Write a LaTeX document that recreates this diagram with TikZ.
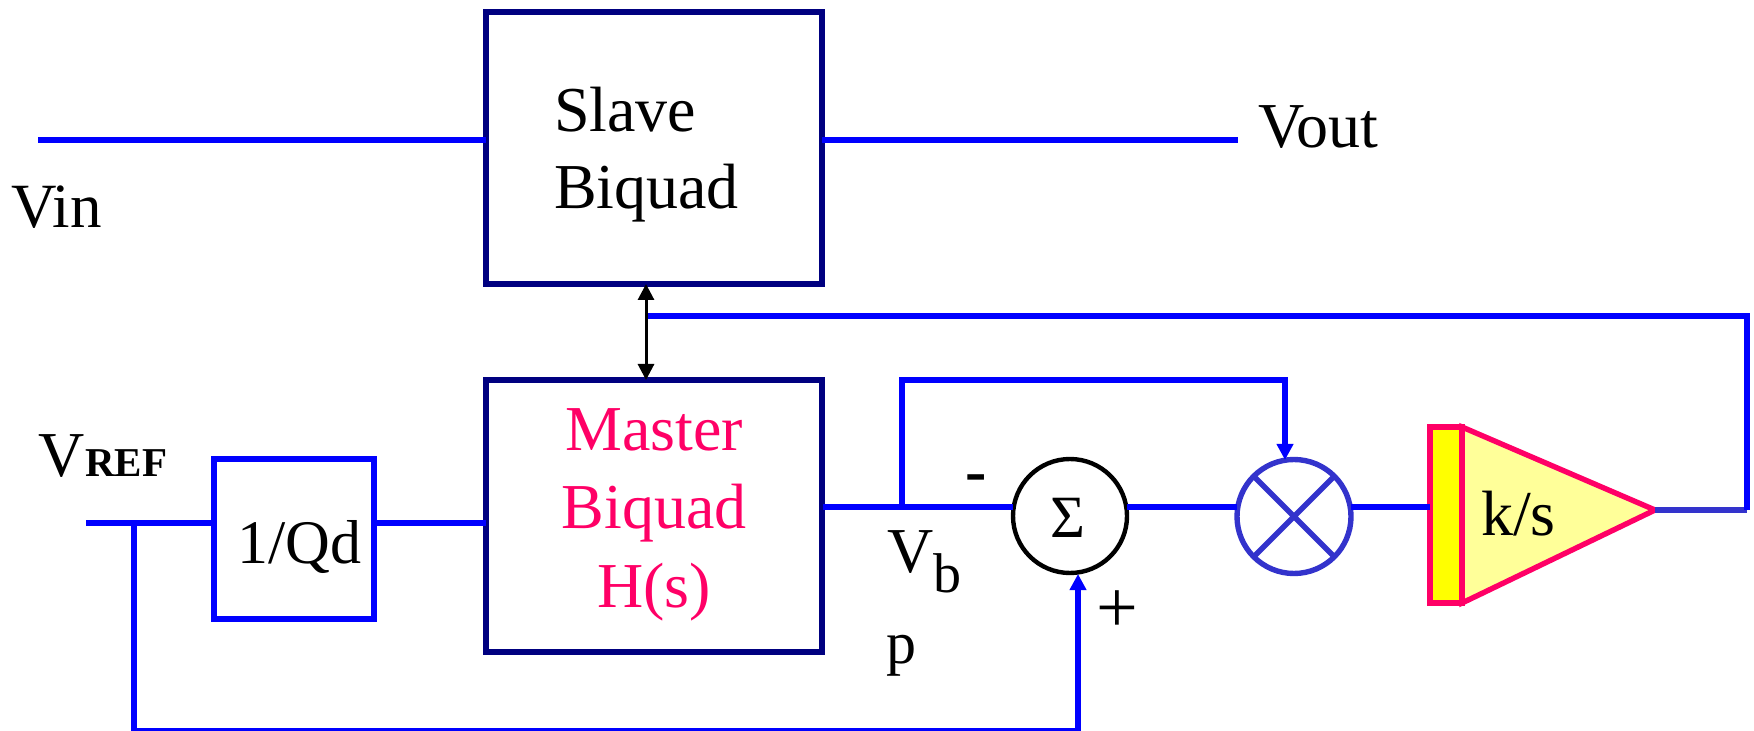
\documentclass[tikz,border=0pt]{standalone}
\usepackage{fontspec}
\setmainfont{Liberation Serif}
\usetikzlibrary{arrows.meta}
\definecolor{navybox}{HTML}{000080}
\definecolor{wire}{HTML}{0000FF}
\definecolor{mixblue}{HTML}{3333CC}
\definecolor{hot}{HTML}{FF0066}
\definecolor{paleyellow}{HTML}{FFFF99}
\definecolor{brightyellow}{HTML}{FFFF00}
\tikzset{
  biquad/.style={draw=navybox,line width=2.8pt,rectangle,inner sep=0,outer sep=0,minimum width=168pt,anchor=center},
  gainbox/.style={draw=wire,line width=2.7pt,rectangle,inner sep=0,outer sep=0,minimum width=80pt,minimum height=80pt},
  wireline/.style={draw=wire,line width=2.7pt,line join=miter},
  wirearrow/.style={wireline,-{Triangle[width=8pt,length=8pt]}},
  biarrow/.style={draw=black,line width=1.5pt,{Triangle[width=8pt,length=8pt]}-{Triangle[width=8pt,length=8pt]}},
  circ/.style={circle,inner sep=0,outer sep=0,minimum size=57pt},
  lab/.style={anchor=base west,inner sep=0,outer sep=0,font=\fontsize{32}{38.5}\selectfont},
  sublab/.style={anchor=base west,inner sep=0,outer sep=0,font=\fontsize{28}{32}\selectfont},
}
\begin{document}
\begin{tikzpicture}[x=0.5pt,y=-0.5pt]
\useasboundingbox (0,0) rectangle (1754,731);
\begin{scope}
\clip (0,0) rectangle (1754,731);
% blocks
\node[biquad,minimum height=136pt] (slave) at (654,148) {};
\node[biquad,minimum height=136pt] (master) at (654,516) {};
\node[gainbox] (qd) at (294,539) {};
\node[circ,draw=black,line width=2.2pt] (sum) at (1070,516) {};
\node[circ,draw=mixblue,line width=2.7pt] (mult) at (1294,516.5) {};
\draw[draw=mixblue,line width=2.7pt] (mult.45) -- (mult.225) (mult.135) -- (mult.315);
\draw[draw=hot,line width=2.7pt,fill=paleyellow] (1462,427) -- (1655,510) -- (1462,603) -- cycle;
\node[draw=hot,fill=brightyellow,line width=2.7pt,rectangle,inner sep=0,outer sep=0,minimum width=16pt,minimum height=88pt] (intbar) at (1446,515) {};
\coordinate (tip) at (1655,510);
% free ends and bends
\coordinate (vinL) at (38,140);
\coordinate (voutR) at (1238,140);
\coordinate (vrefL) at (86,523);
\coordinate (tapA) at (134,523);
\coordinate (botL) at (134,731);
\coordinate (botR) at (1078,731);
\coordinate (sumIn) at (1078,574);
\coordinate (vbL) at (823,507);
\coordinate (tapB) at (902,507);
\coordinate (fbA) at (902,380);
\coordinate (fbB) at (1285,380);
\coordinate (multIn) at (1285,460);
\coordinate (outC) at (1747,510);
\coordinate (outD) at (1747,316);
\coordinate (linkEnd) at (646,316);
\coordinate (linkTop) at (646,284);
\coordinate (linkBot) at (646,380);
% connectors
\draw[wireline] (vinL) -- (vinL -| slave.west);
\draw[wireline] (voutR -| slave.east) -- (voutR);
\draw[wireline] (vrefL) -- (vrefL -| qd.west);
\draw[wireline] (vrefL -| qd.east) -- (vrefL -| master.west);
\draw[wirearrow] (tapA) -- (botL) -- (botR) -- (sumIn);
\draw[wireline] (vbL) -- (vbL -| sum.west);
\draw[wirearrow] (tapB) -- (fbA) -- (fbB) -- (multIn);
\draw[wireline] (vbL -| sum.east) -- (vbL -| mult.west);
\draw[wireline] (vbL -| mult.east) -- (vbL -| intbar.west);
\draw[draw=mixblue,line width=2.7pt] (tip) -- (outC);
\draw[wireline] (outC) -- (outD) -- (linkEnd);
\draw[biarrow] (linkTop) -- (linkBot);
\end{scope}
% labels
\node[lab] (slavetxt) at (554,132) {Slave};
\node[lab] (slavetxtb) at (554,209) {Biquad};
\node[lab,anchor=base,text=hot] (m1) at (654,451) {Master};
\node[lab,anchor=base,text=hot] (m2) at (654,528) {Biquad};
\node[lab,anchor=base,text=hot] (m3) at (654,607) {H(s)};
\node[lab,font=\fontsize{31.5}{36}\selectfont] (vin) at (11,228) {Vin};
\node[lab] (vout) at (1258,148) {Vout};
\node[lab] (vref) at (39,476) {V{\fontsize{20.5}{24}\selectfont\bfseries REF}};
\node[lab,font=\fontsize{31}{36}\selectfont] (qdt) at (237,563) {1/Qd};
\node[lab] (kst) at (1481,535) {k/s};
\node[lab] (vbv) at (887,572) {V};
\node[sublab] (vbb) at (933,592) {b};
\node[lab,font=\fontsize{30}{34}\selectfont] (vbp) at (886,663) {p};
\node[lab,anchor=center] (minus) at (976,484) {\textbf{-}};
\node[lab,anchor=center,font=\fontsize{37}{42}\selectfont] (plus) at (1117,612) {+};
\node[lab,anchor=center,font=\fontsize{30}{34}\selectfont] (sigma) at (1068,518) {Σ};
\end{tikzpicture}
\end{document}
